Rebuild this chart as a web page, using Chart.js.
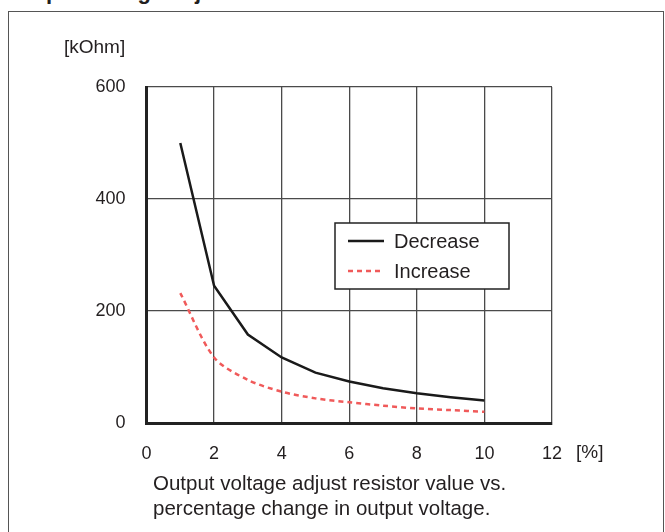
<!DOCTYPE html>
<html>
<head>
<meta charset="utf-8">
<script src="https://cdn.jsdelivr.net/npm/chart.js@4.4.1/dist/chart.umd.min.js"></script>
<style>
  body { margin:0; background:#fff; font-family:"Liberation Sans", Arial, sans-serif; color:#231f20; }
  #wrap { position:relative; width:665px; height:532px; overflow:hidden; }
  #frame { position:absolute; left:8px; top:11px; width:654px; height:540px; border:1.5px solid #555; }
  #title { position:absolute; left:8px; top:-21px; font-size:22px; font-weight:bold; white-space:nowrap; }
  .lbl { position:absolute; font-size:19px; white-space:nowrap; }
  canvas { position:absolute; left:0; top:0; }
</style>
</head>
<body>
<div id="wrap">
  <div id="title">Output voltage adjustment</div>
  <div id="frame"></div>
  <canvas id="myChart" width="665" height="532"></canvas>
  <div class="lbl" style="left:64px; top:36px;">[kOhm]</div>
  <div class="lbl" style="left:576px; top:441px;">[%]</div>
  <div class="lbl" style="left:153px; top:470px; font-size:20.5px; line-height:25px;">Output voltage adjust resistor value vs.<br>percentage change in output voltage.</div>
</div>
<script>
// percentage change in output voltage
var xValues = [1, 2, 3, 4, 5, 6, 7, 8, 9, 10];
// resistor value [kOhm]
var decreaseValues = [500, 245, 158, 117, 90, 74, 62, 53, 46, 40];
var increaseValues = [232, 117, 77, 56, 44, 37, 31, 26, 23, 20];
var seriesNames = ["Decrease", "Increase"];
var xTicks = [0, 2, 4, 6, 8, 10, 12];
var yTicks = [0, 200, 400, 600];

function pts(ys) {
    return xValues.map(function(x, i){ return {x:x, y:ys[i]}; });
}

// legend box drawn inside the plot
var legendBox = {
    id: "legendBox",
    afterDraw: function(chart) {
        var ctx = chart.ctx;
        ctx.save();
        ctx.fillStyle = "#fff";
        ctx.fillRect(335, 223, 174, 66);
        ctx.strokeStyle = "#222";
        ctx.lineWidth = 1.5;
        ctx.strokeRect(335, 223, 174, 66);
        chart.data.datasets.forEach(function(ds, i) {
            var y = 241 + i * 30;
            ctx.strokeStyle = ds.borderColor;
            ctx.lineWidth = ds.borderWidth;
            ctx.setLineDash(ds.borderDash || []);
            ctx.beginPath();
            ctx.moveTo(348, y);
            ctx.lineTo(384, y);
            ctx.stroke();
            ctx.setLineDash([]);
            ctx.fillStyle = "#231f20";
            ctx.font = "20px 'Liberation Sans', Arial, sans-serif";
            ctx.textBaseline = "middle";
            ctx.fillText(ds.label, 394, y + 1);
        });
        ctx.restore();
    }
};

new Chart("myChart", {
    type: "scatter",
    data: {
        datasets: [{
            label: seriesNames[0],
            data: pts(decreaseValues),
            showLine: true,
            borderColor: "#1a1a1a",
            borderWidth: 2.5,
            pointRadius: 0,
            tension: 0
        }, {
            label: seriesNames[1],
            data: pts(increaseValues),
            showLine: true,
            borderColor: "#f05a5a",
            borderWidth: 2.5,
            borderDash: [5, 4],
            pointRadius: 0,
            tension: 0.3
        }]
    },
    options: {
        responsive: false,
        animation: false,
        layout: { padding: { left: 86, top: 87, right: 113, bottom: 59 } },
        plugins: { legend: { display: false }, tooltip: { enabled: false } },
        scales: {
            x: {
                type: "linear", min: 0, max: 12,
                afterFit: function(s) { s.height = 50; },
                afterBuildTicks: function(s) { s.ticks = xTicks.map(function(v){ return {value:v}; }); },
                grid: { color: "#4a4a4a", lineWidth: 1.3, drawTicks: false },
                border: { color: "#222", width: 3 },
                ticks: { color: "#231f20", padding: 20, font: { size: 18, family: "'Liberation Sans', Arial" } }
            },
            y: {
                min: 0, max: 600,
                afterFit: function(s) { s.width = 60.5; },
                afterBuildTicks: function(s) { s.ticks = yTicks.map(function(v){ return {value:v}; }); },
                grid: { color: "#4a4a4a", lineWidth: 1.3, drawTicks: false },
                border: { color: "#222", width: 3 },
                ticks: { color: "#231f20", padding: 21, font: { size: 18, family: "'Liberation Sans', Arial" } }
            }
        }
    },
    plugins: [legendBox]
});
</script>
</body>
</html>
